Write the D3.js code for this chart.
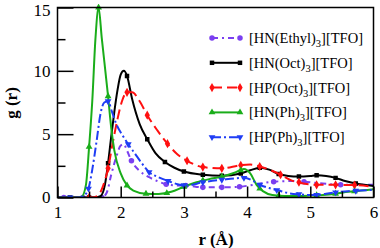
<!DOCTYPE html>
<html><head><meta charset="utf-8">
<script src="https://cdn.jsdelivr.net/npm/d3@7"></script>
<style>body{margin:0;background:#fff}svg{display:block}</style>
</head><body><svg id="c" width="380" height="248"></svg>
<script>
// ---- data ----
const xTicks = [1, 2, 3, 4, 5, 6];
const xMinor = [1.5, 2.5, 3.5, 4.5, 5.5];
const yTicks = [0, 5, 10, 15];
const yMinor = [2.5, 7.5, 12.5];
const seriesNames = ["[HN(Ethyl)", "[HN(Oct)", "[HP(Oct)", "[HN(Ph)", "[HP(Ph)"];

const ethylCurve = [[1.0,0],[1.7,0],[1.78,0.4],[1.85,1.8],[1.93,3.2],[2.0,4.1],[2.05,4.2],[2.1,3.7],[2.17,2.9],[2.3,2.1],[2.45,1.6],[2.6,1.25],[2.72,1.05],[2.9,0.95],[3.03,0.95],[3.3,0.8],[3.6,0.8],[3.88,0.85],[4.1,1.0],[4.42,1.25],[4.7,1.3],[4.9,1.25],[5.2,1.1],[5.48,1.0],[5.75,1.0],[6.0,1.0]];
const ethylMarks = [[1.1,0],[1.4,0],[1.7,0],[2.17,2.9],[2.72,1.05],[3.03,0.95],[3.3,0.8],[3.6,0.8],[3.88,0.85],[4.42,1.25],[4.9,1.25],[5.48,1.0]];

const noctCurve = [[1.0,0],[1.6,0],[1.68,0.1],[1.75,1.0],[1.8,2.7],[1.85,4.8],[1.9,6.8],[1.95,8.5],[2.0,9.7],[2.05,10.0],[2.1,9.6],[2.18,7.8],[2.3,5.8],[2.42,4.6],[2.55,3.5],[2.7,2.8],[2.85,2.35],[3.0,2.05],[3.3,1.8],[3.6,1.72],[3.9,1.9],[4.05,2.15],[4.2,2.35],[4.35,2.2],[4.5,1.85],[4.65,1.7],[4.82,1.65],[5.0,1.7],[5.1,1.75],[5.25,1.7],[5.4,1.55],[5.55,1.3],[5.72,1.1],[5.85,1.0],[6.0,0.9]];
const noctMarks = [[1.2,0],[1.5,0],[1.8,2.7],[2.1,9.6],[2.42,4.6],[2.7,2.8],[3.0,2.05],[3.3,1.8],[3.6,1.72],[3.9,1.9],[4.2,2.35],[4.5,1.85],[4.82,1.65],[5.1,1.75],[5.4,1.55],[5.72,1.1]];

const poctCurve = [[1.0,0],[1.55,0],[1.65,0.2],[1.72,0.9],[1.8,2.3],[1.87,4.2],[1.95,6.2],[2.02,7.6],[2.1,8.3],[2.18,8.3],[2.3,7.6],[2.42,6.5],[2.58,5.3],[2.74,4.25],[2.9,3.4],[3.05,2.9],[3.3,2.4],[3.6,2.3],[3.9,2.55],[4.05,2.6],[4.2,2.45],[4.35,2.2],[4.53,1.8],[4.7,1.35],[4.85,1.15],[5.1,1.0],[5.4,1.0],[5.7,0.98],[6.0,0.85]];
const poctMarks = [[1.5,0],[1.8,2.3],[2.1,8.3],[2.42,6.5],[2.74,4.25],[3.05,2.9],[3.3,2.4],[3.6,2.3],[3.9,2.55],[4.2,2.45],[4.53,1.8],[4.82,1.2],[5.1,1.0],[5.4,1.0],[5.7,0.98]];

const nphCurve = [[1.0,0],[1.3,0],[1.38,0.05],[1.45,1.0],[1.5,4.0],[1.55,7.6],[1.6,12.5],[1.65,15.0],[1.7,12.6],[1.8,8.0],[1.85,5.5],[1.9,3.7],[2.0,1.9],[2.1,0.95],[2.2,0.55],[2.4,0.3],[2.6,0.28],[2.8,0.45],[3.0,0.85],[3.2,1.2],[3.4,1.45],[3.6,1.65],[3.8,1.95],[3.95,2.25],[4.05,1.9],[4.15,1.0],[4.25,0.5],[4.4,0.2],[4.6,0.12],[4.8,0.12],[5.0,0.15],[5.2,0.2],[5.4,0.3],[5.6,0.45],[5.8,0.55],[6.0,0.65]];
const nphMarks = [[1.5,4.0],[1.65,15.0],[1.8,8.0],[2.1,0.95],[2.4,0.3],[2.73,0.35],[3.0,0.85],[3.3,1.35],[3.6,1.65],[3.9,2.15],[4.2,0.7],[4.5,0.15],[4.8,0.12],[5.1,0.18],[5.4,0.3],[5.7,0.5]];

const pphCurve = [[1.0,0],[1.35,0],[1.42,0.15],[1.49,0.7],[1.55,2.2],[1.62,4.5],[1.68,6.6],[1.74,7.5],[1.8,7.6],[1.86,6.8],[1.93,5.8],[2.03,4.9],[2.12,4.2],[2.22,3.5],[2.32,2.8],[2.45,2.0],[2.6,1.6],[2.75,1.3],[2.9,1.05],[3.05,0.95],[3.3,1.2],[3.6,1.4],[3.95,1.55],[4.1,1.3],[4.2,1.0],[4.35,0.75],[4.5,0.55],[4.65,0.35],[4.82,0.25],[5.0,0.2],[5.1,0.2],[5.25,0.3],[5.4,0.4],[5.6,0.5],[5.8,0.55],[6.0,0.6]];
const pphMarks = [[1.2,0],[1.49,0.7],[1.8,7.6],[2.12,4.2],[2.45,2.0],[2.75,1.3],[3.0,0.97],[3.3,1.2],[3.6,1.4],[3.95,1.55],[4.2,1.0],[4.47,0.58],[4.82,0.25],[5.1,0.2],[5.4,0.4],[5.72,0.53]];

const seriesCurves = [ethylCurve, noctCurve, poctCurve, nphCurve, pphCurve];
const seriesMarks = [ethylMarks, noctMarks, poctMarks, nphMarks, pphMarks];

// ---- styles ----
const FONT = "'Liberation Serif', 'Tinos', 'Times New Roman', Times, 'DejaVu Serif', serif";
const colors = ["#7a3ff0", "#000000", "#ff1010", "#1aad1a", "#1f3df5"];
const dashes = ["6,4,2,4", null, "10,5", null, "9,3,2,3"];
const shapes = [d3.symbolCircle, d3.symbolSquare, d3.symbolDiamond, d3.symbolTriangle, d3.symbolTriangle];
const symSize = [24, 20, 24, 20, 20];
const rot = [0, 0, 0, 0, 180];

const svg = d3.select("#c");
const x = d3.scaleLinear([1, 6], [57.5, 373.5]);
const y = d3.scaleLinear([0, 15], [197.5, 7.5]);

svg.append("clipPath").attr("id", "pc").append("rect")
  .attr("x", 57.5).attr("y", 4).attr("width", 316).attr("height", 194);

const line = d3.line().x(d => x(d[0])).y(d => y(d[1])).curve(d3.curveMonotoneX);
const plot = svg.append("g").attr("clip-path", "url(#pc)");

seriesCurves.forEach((c, i) => {
  plot.append("path").attr("d", line(c)).attr("fill", "none")
    .attr("stroke", colors[i]).attr("stroke-width", 2)
    .attr("stroke-dasharray", dashes[i]);
  plot.selectAll(null).data(seriesMarks[i]).join("path")
    .attr("d", d3.symbol(shapes[i], symSize[i]))
    .attr("transform", d => `translate(${x(d[0])},${y(d[1])}) rotate(${rot[i]})`)
    .attr("fill", colors[i]);
});

// axes
const fs = "17px";
svg.append("g").attr("transform", "translate(0,197.5)")
  .call(d3.axisBottom(x).tickValues(xTicks).tickSize(-11).tickPadding(8).tickFormat(d3.format("d")));
svg.append("g").attr("transform", "translate(0,197.5)")
  .call(d3.axisBottom(x).tickValues(xMinor).tickSize(-6).tickFormat(""));
svg.append("g").attr("transform", "translate(57.5,0)")
  .call(d3.axisLeft(y).tickValues(yTicks).tickSize(-16).tickPadding(7).tickFormat(d3.format("d")));
svg.append("g").attr("transform", "translate(57.5,0)")
  .call(d3.axisLeft(y).tickValues(yMinor).tickSize(-8).tickFormat(""));
svg.selectAll(".domain").remove();
svg.selectAll(".tick line").attr("stroke", "#000").attr("stroke-width", 1.5);
svg.selectAll(".tick text").style("font-size", fs).style("font-family", FONT).attr("fill", "#000");
svg.selectAll(".tick").filter(d => d === 15).select("text").attr("dy", "0.45em");

svg.append("rect").attr("x", 57.5).attr("y", 7.5).attr("width", 316).attr("height", 190)
  .attr("fill", "none").attr("stroke", "#000").attr("stroke-width", 1.5);

svg.append("text").attr("x", 216).attr("y", 245).attr("text-anchor", "middle")
  .style("font-family", FONT).style("font-size", fs).style("font-weight", "bold").text("r (Å)");
svg.append("text").attr("transform", "translate(17,103) rotate(-90)").attr("text-anchor", "middle")
  .style("font-family", FONT).style("font-size", fs).style("font-weight", "bold").text("g (r)");

// legend
const legY0 = 38, legDy = 24.8;
seriesNames.forEach((n, i) => {
  const yy = legY0 + i * legDy;
  svg.append("line").attr("x1", 212).attr("x2", 240).attr("y1", yy).attr("y2", yy)
    .attr("stroke", colors[i]).attr("stroke-width", 2).attr("stroke-dasharray", dashes[i]);
  [212, 240].forEach(px => svg.append("path").attr("d", d3.symbol(shapes[i], symSize[i]))
    .attr("transform", `translate(${px},${yy}) rotate(${rot[i]})`).attr("fill", colors[i]));
  const t = svg.append("text").attr("x", 249).attr("y", yy + 5)
    .style("font-family", FONT).style("font-size", "14.5px");
  t.append("tspan").text(n);
  t.append("tspan").attr("dy", 4).style("font-size", "10.5px").text("3");
  t.append("tspan").attr("dy", -4).text("][TFO]");
});
</script></body></html>
